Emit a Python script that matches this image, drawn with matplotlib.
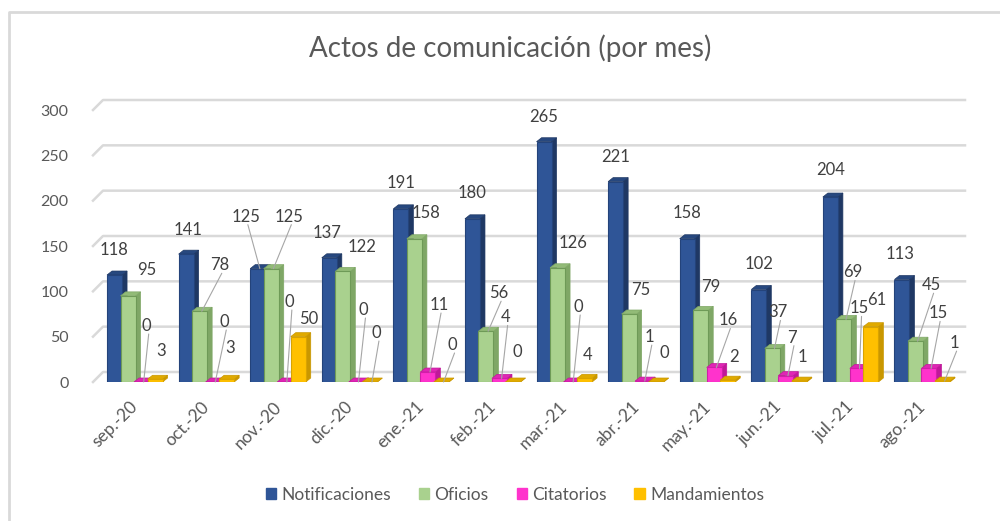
import matplotlib
matplotlib.use("Agg")
import matplotlib.pyplot as plt
from matplotlib.transforms import blended_transform_factory, ScaledTranslation
from matplotlib.lines import Line2D
from matplotlib.patches import Patch, Polygon

# ---------------------------------------------------------
# Data
# ---------------------------------------------------------
months = ["sep.-20", "oct.-20", "nov.-20", "dic.-20", "ene.-21", "feb.-21",
          "mar.-21", "abr.-21", "may.-21", "jun.-21", "jul.-21", "ago.-21"]
notificaciones = [118, 141, 125, 137, 191, 180, 265, 221, 158, 102, 204, 113]
oficios = [95, 78, 125, 122, 158, 56, 126, 75, 79, 37, 69, 45]
citatorios = [0, 0, 0, 0, 11, 4, 0, 1, 16, 7, 15, 15]
mandamientos = [3, 3, 50, 0, 0, 0, 4, 0, 2, 1, 61, 1]

series_names = ["Notificaciones", "Oficios", "Citatorios", "Mandamientos"]
series_values = [notificaciones, oficios, citatorios, mandamientos]
y_ticks = [0, 50, 100, 150, 200, 250, 300]

# ---------------------------------------------------------
# Style
# ---------------------------------------------------------
front_colors = ["#2F5597", "#A9D18E", "#FF33CC", "#FFC000"]
side_colors = ["#1F3864", "#7FA766", "#C0189A", "#C99700"]
top_colors = ["#27487F", "#92BB77", "#E025B5", "#E0AA00"]
edge_colors = ["#24437A", "#6E9A57", "#D01FA8", "#D9A300"]
text_color = "#595959"
label_color = "#404040"
grid_color = "#D9D9D9"

# label offsets in pixels (dx, dy) from the top of each bar, Excel "best fit"
label_offsets = [
    [(-1, 25), (2, 24), (-12, 52), (-2, 25), (0, 26), (0, 26),
     (0, 25), (0, 25), (0, 26), (0, 26), (0, 27), (-2, 26)],
    [(19, 26), (20, 46), (18, 52), (19, 24), (12, 26), (13, 38),
     (15, 25), (12, 24), (10, 23), (6, 36), (9, 47), (16, 56)],
    [(5, 56), (11, 60), (5, 80), (7, 72), (11, 67), (6, 61),
     (7, 75), (7, 44), (14, 47), (6, 38), (2, 60), (9, 55)],
    [(6, 28), (3, 31), (11, 18), (7, 49), (11, 37), (4, 30),
     (3, 23), (8, 29), (6, 23), (3, 24), (6, 27), (12, 38)],
]

DPI = 100
fig = plt.figure(figsize=(10, 5.21), dpi=DPI)
plt.rcParams["font.family"] = ["Lato", "DejaVu Sans"]

ax = fig.add_axes([0.099, 1 - 382 / 521, 0.859, 272 / 521])
ax.set_xlim(-0.5, len(months) - 0.5)
ax.set_ylim(0, 300)
for s in ax.spines.values():
    s.set_visible(False)
ax.set_facecolor("none")

to_px = ax.transData
to_data = ax.transData.inverted()

# gridlines on the back wall with the 3D slant at the left
blend = blended_transform_factory(ax.transAxes, ax.transData)
inv = fig.transFigure.inverted()
for t in y_ticks:
    p0 = blend.transform((0, t)) + [-6, 0]
    p1 = p0 + [10, 10]
    p2 = blend.transform((1, t)) + [7, 10]
    a, b, c = inv.transform([p0, p1, p2])
    fig.add_artist(Line2D([a[0], b[0], c[0]], [a[1], b[1], c[1]],
                          color=grid_color, lw=1.8, zorder=0))

# bars with a simple 3D side and top
bar_w = 0.21
step = 0.1886
dx3, dy3 = 5, 4
x = list(range(len(months)))
for i, (name, vals) in enumerate(zip(series_names, series_values)):
    xs = [xi + (i - 1.5) * step for xi in x]
    z = 2 + i * 2
    ax.bar(xs, vals, width=bar_w, color=front_colors[i], edgecolor=edge_colors[i],
           lw=0.8, zorder=z + 1, label=name)
    for j, v in enumerate(vals):
        l, b = to_px.transform((xs[j] - bar_w / 2, 0))
        r, t = to_px.transform((xs[j] + bar_w / 2, v))
        side = to_data.transform([(r, b), (r + dx3, b + dy3), (r + dx3, t + dy3), (r, t)])
        top = to_data.transform([(l, t), (r, t), (r + dx3, t + dy3), (l + dx3, t + dy3)])
        ax.add_patch(Polygon(side, closed=True, facecolor=side_colors[i],
                             edgecolor=side_colors[i], lw=0.5, zorder=z))
        ax.add_patch(Polygon(top, closed=True, facecolor=top_colors[i],
                             edgecolor=side_colors[i], lw=0.5, zorder=z))

        ox, oy = label_offsets[i][j]
        ax.annotate(str(v), xy=(xs[j], v), xytext=(ox * 0.72, oy * 0.72),
                    textcoords="offset points", ha="center", va="center",
                    fontsize=12, color=label_color, zorder=20)
        if oy > 32:
            ax.annotate("", xy=(xs[j] + 0.03, v), xytext=(ox * 0.72, (oy - 8) * 0.72),
                        textcoords="offset points",
                        arrowprops=dict(arrowstyle="-", color="#A6A6A6", lw=0.8,
                                        shrinkA=0, shrinkB=0), zorder=19)

ax.set_yticks(y_ticks)
ax.set_yticklabels([str(t) for t in y_ticks], fontsize=11.5, color=text_color)
ax.tick_params(axis="y", length=0, pad=22)
ax.set_xticks(x)
ax.set_xticklabels(months, rotation=45, ha="right", rotation_mode="anchor",
                   fontsize=12.5, color=text_color)
ax.tick_params(axis="x", length=0, pad=12)
shift = ScaledTranslation(-5 / DPI, 0, fig.dpi_scale_trans)
for lbl in ax.get_xticklabels():
    lbl.set_transform(lbl.get_transform() + shift)

fig.text(0.51, 1 - 48 / 521, "Actos de comunicación (por mes)", ha="center",
         va="center", fontsize=20, color=text_color)

handles = [Patch(facecolor=c, edgecolor=c) for c in front_colors]
fig.legend(handles, series_names, loc="center", bbox_to_anchor=(0.515, 1 - 495 / 521),
           ncol=4, frameon=False, fontsize=12.5, handlelength=0.6, handleheight=0.6,
           handletextpad=0.3, columnspacing=1.6, labelcolor=text_color)

# chart border (left and top only visible)
fig.add_artist(Line2D([0.009, 0.009, 1.0], [0.0, 1 - 12 / 521, 1 - 12 / 521],
                      color=grid_color, lw=2))

fig.savefig("out.png", dpi=DPI)
